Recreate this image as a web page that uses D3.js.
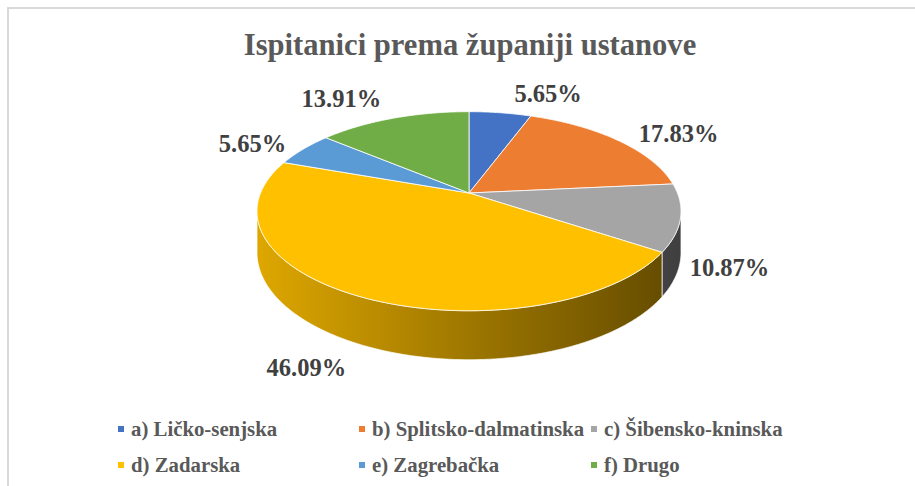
<meta charset="utf-8">
<script src="https://cdn.jsdelivr.net/npm/d3@7"></script>
<style>
  body { margin: 0; background: #fff; }
  svg { display: block; }
  text { font-family: "Liberation Serif", "Times New Roman", serif; font-weight: bold; }
</style>
<div id="chart"></div>

<script>
  const width = 915
  const height = 486

  // data
  const categories = ["a) Ličko-senjska", "b) Splitsko-dalmatinska", "c) Šibensko-kninska",
                      "d) Zadarska", "e) Zagrebačka", "f) Drugo"]
  const values = [5.65, 17.83, 10.87, 46.09, 5.65, 13.91]
  const colors = ["#4472C4", "#ED7D31", "#A5A5A5", "#FFC000", "#5B9BD5", "#70AD47"]
  const title = "Ispitanici prema županiji ustanove"

  // layout of the 3d pie (perspective ellipse)
  const cx = 469, cy = 193          // apex of the pie on screen
  const ax = 208.4, by = 96.2        // projected radii
  const persp = 0.183               // perspective strength
  const depth = 40
  // outside labels: shift from the rim point, like excel puts them
  const labelNudge = [[48, -19], [61, -6.5], [49, 50], [-51, 72], [-50.6, -5.5], [-52, -19.5]]
  // legend grid
  const legendCols = [121, 362, 594]
  const legendRows = [436, 472]

  const svg = d3.select("#chart").append("svg")
    .attr("width", width)
    .attr("height", height)

  // chart area border
  svg.append("rect")
    .attr("x", 8).attr("y", 8)
    .attr("width", 1000).attr("height", 1000)
    .attr("fill", "#fff")
    .attr("stroke", "#d9d9d9")
    .attr("stroke-width", 2)

  svg.append("text")
    .attr("x", 470).attr("y", 55)
    .attr("text-anchor", "middle")
    .attr("font-size", "30.6px")
    .attr("fill", "#595959")
    .text(title)

  // theta: 0 at top, clockwise (same as d3.pie)
  function proj(theta, k) {
    const u = k * Math.sin(theta), v = -k * Math.cos(theta)
    const den = 1 - persp * v
    return [cx + ax * u / den, cy + by * v / den, v]
  }
  function down(theta) {
    const p = proj(theta, 1)
    return [p[0], p[1] + depth / (1 - persp * p[2])]
  }

  const pie = d3.pie().sort(null).value(d => d)
  const arcs = pie(values)
  const line = d3.line()

  const defs = svg.append("defs")
  colors.forEach((c, i) => {
    const base = d3.rgb(c)
    const shade = f => d3.rgb(base.r * f, base.g * f, base.b * f).formatHex()
    const g = defs.append("linearGradient")
      .attr("id", "side" + i)
      .attr("gradientUnits", "userSpaceOnUse")
      .attr("x1", cx - 212).attr("x2", cx + 212)
      .attr("y1", 0).attr("y2", 0)
    g.append("stop").attr("offset", "0%").attr("stop-color", shade(0.87))
    g.append("stop").attr("offset", "50%").attr("stop-color", shade(0.62))
    g.append("stop").attr("offset", "100%").attr("stop-color", shade(0.38))
  })

  const step = Math.PI / 360
  function samples(t0, t1) {
    const n = Math.max(2, Math.ceil((t1 - t0) / step))
    return d3.range(n + 1).map(j => t0 + (t1 - t0) * j / n)
  }

  // visible side wall: between the two tangent points
  const tL = Math.acos(-persp), tR = 2 * Math.PI - tL
  const walls = svg.append("g")
  arcs.forEach((d, i) => {
    const t0 = Math.max(d.startAngle, tL), t1 = Math.min(d.endAngle, tR)
    if (t1 <= t0) return
    const ts = samples(t0, t1)
    const pts = ts.map(t => proj(t, 1).slice(0, 2)).concat(ts.slice().reverse().map(down))
    walls.append("path")
      .attr("d", line(pts) + "Z")
      .attr("fill", "url(#side" + i + ")")
      .attr("stroke", "#fff")
      .attr("stroke-opacity", 0.7)
      .attr("stroke-width", 1)
  })

  // top faces
  const tops = svg.append("g")
  arcs.forEach((d, i) => {
    const pts = [[cx, cy]].concat(samples(d.startAngle, d.endAngle).map(t => proj(t, 1).slice(0, 2)))
    tops.append("path")
      .attr("d", line(pts) + "Z")
      .attr("fill", colors[i])
      .attr("stroke", "#fff")
      .attr("stroke-opacity", 0.8)
      .attr("stroke-width", 1)
      .attr("stroke-linejoin", "round")
  })

  // data labels
  const fmt = d3.format(".2f")
  svg.append("g").selectAll("text")
    .data(arcs)
    .enter().append("text")
    .attr("x", (d, i) => proj((d.startAngle + d.endAngle) / 2, 1)[0] + labelNudge[i][0])
    .attr("y", (d, i) => proj((d.startAngle + d.endAngle) / 2, 1)[1] + labelNudge[i][1])
    .attr("dy", "0.33em")
    .attr("text-anchor", "middle")
    .attr("font-size", "24.5px")
    .attr("fill", "#404040")
    .text(d => fmt(d.data) + "%")

  // legend
  const legend = svg.append("g").selectAll("g")
    .data(categories)
    .enter().append("g")
    .attr("transform", (d, i) => "translate(" + legendCols[i % 3] + "," + legendRows[Math.floor(i / 3)] + ")")
  legend.append("rect")
    .attr("x", -3).attr("y", -10)
    .attr("width", 6).attr("height", 6)
    .attr("fill", (d, i) => colors[i])
  legend.append("text")
    .attr("x", 10)
    .attr("font-size", "20.8px")
    .attr("fill", "#595959")
    .text(d => d)
</script>
